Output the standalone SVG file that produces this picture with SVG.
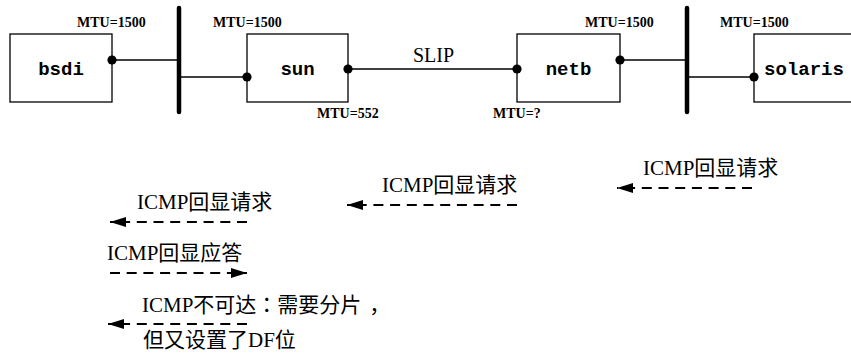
<svg xmlns="http://www.w3.org/2000/svg" width="851" height="357" viewBox="0 0 851 357">
<style>
.box{fill:#fff;stroke:#000;stroke-width:1.3}
.lbl{font-family:"Liberation Mono",monospace;font-weight:bold;font-size:19px;text-anchor:middle;fill:#000}
.mtu{font-family:"Liberation Serif",serif;font-weight:bold;font-size:14px;fill:#000}
.bus{stroke:#000;stroke-width:4.5;stroke-linecap:round}
.wire{stroke:#000;stroke-width:1.4;fill:none}
.dot{fill:#000}
.msg{font-family:"Liberation Serif","Noto Sans CJK SC",serif;font-size:21px;fill:#000}
.pun{font-family:"Noto Sans CJK TC",sans-serif}
.arr{stroke:#000;stroke-width:2;stroke-dasharray:10 6.7;fill:none;marker-end:url(#ah)}
</style>
<defs>
<marker id="ah" markerUnits="userSpaceOnUse" viewBox="0 0 16 10" markerWidth="16" markerHeight="10" refX="16" refY="5" orient="auto">
<path d="M0,0 L16,5 L0,10 Z" fill="#000"/>
</marker>
</defs>
<g id="bsdi">
<rect class="box" x="10" y="34" width="102" height="68"/>
<text class="lbl" x="61" y="75">bsdi</text>
</g>
<g id="sun">
<rect class="box" x="247" y="34" width="101" height="68"/>
<text class="lbl" x="297.5" y="75">sun</text>
</g>
<g id="netb">
<rect class="box" x="517" y="34" width="103" height="68"/>
<text class="lbl" x="568.5" y="75">netb</text>
</g>
<g id="solaris">
<rect class="box" x="754" y="34" width="102" height="68"/>
<text class="lbl" x="804" y="75">solaris</text>
</g>
<g id="ether1">
<line class="bus" x1="179" y1="8" x2="179" y2="112"/>
</g>
<g id="ether2">
<line class="bus" x1="687" y1="8" x2="687" y2="112"/>
</g>
<g id="connectors">
<line class="wire" x1="112" y1="60" x2="179" y2="60"/>
<line class="wire" x1="179" y1="77" x2="247" y2="77"/>
<line class="wire" x1="348" y1="69" x2="517" y2="69"/>
<line class="wire" x1="620" y1="60" x2="687" y2="60"/>
<line class="wire" x1="687" y1="77" x2="754" y2="77"/>
<circle class="dot" cx="112" cy="60" r="4.6"/>
<circle class="dot" cx="247" cy="77" r="4.6"/>
<circle class="dot" cx="348" cy="69" r="4.6"/>
<circle class="dot" cx="517" cy="69" r="4.6"/>
<circle class="dot" cx="620" cy="60" r="4.6"/>
<circle class="dot" cx="754" cy="77" r="4.6"/>
<text x="413" y="62" font-family="Liberation Serif,serif" font-size="20">SLIP</text>
</g>
<g id="mtu-labels">
<text class="mtu" x="77" y="27">MTU=1500</text>
<text class="mtu" x="213" y="27">MTU=1500</text>
<text class="mtu" x="585" y="27">MTU=1500</text>
<text class="mtu" x="720" y="27">MTU=1500</text>
<text class="mtu" x="317" y="118">MTU=552</text>
<text class="mtu" x="493" y="118">MTU=?</text>
</g>
<g id="messages">
<text class="msg" x="643" y="175">ICMP回显请求</text>
<line class="arr" x1="752" y1="188" x2="617" y2="188"/>
<text class="msg" x="382" y="192">ICMP回显请求</text>
<line class="arr" x1="517" y1="205" x2="347" y2="205"/>
<text class="msg" x="137" y="209">ICMP回显请求</text>
<line class="arr" x1="247" y1="222" x2="110" y2="222"/>
<text class="msg" x="107" y="260">ICMP回显应答</text>
<line class="arr" x1="110" y1="273" x2="247" y2="273"/>
<text class="msg" x="142" y="312">ICMP不可达<tspan class="pun">：</tspan>需要分片<tspan dx="8">，</tspan></text>
<line class="arr" x1="247" y1="324" x2="108" y2="324"/>
<text class="msg" x="143" y="347">但又设置了DF位</text>
</g>
</svg>
